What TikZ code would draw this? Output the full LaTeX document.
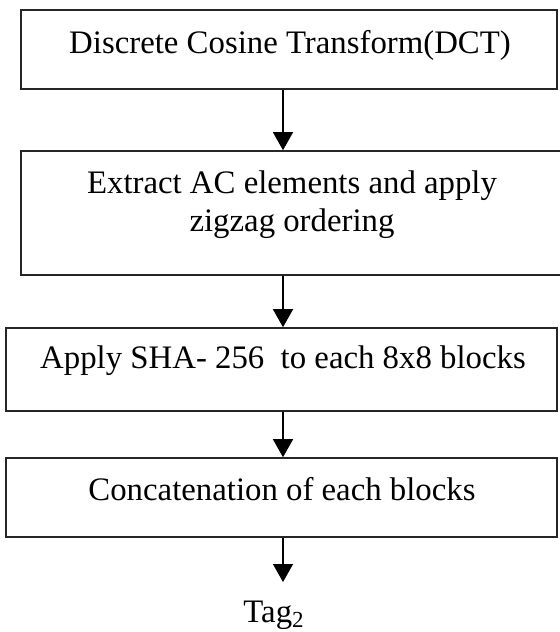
\documentclass[tikz,border=0pt]{standalone}
\usepackage{fontspec}
\setmainfont{Liberation Serif}
\usetikzlibrary{arrows.meta}
\begin{document}
\begin{tikzpicture}[x=0.5pt,y=-0.5pt]
	\tikzset{stepbox/.style={draw=black!85, line width=0.8pt, inner sep=0pt},
		steptext/.style={anchor=base, align=center, inner sep=0pt, font=\fontsize{16.4}{19}\selectfont},
		flowarrow/.style={line width=0.7pt, -{Triangle[width=10pt,length=9pt]}}}
	\useasboundingbox (0,0) rectangle (559,632);
	\coordinate (axis) at (283,0);
	% process boxes
	\node[stepbox, minimum width=268pt, minimum height=39.5pt] (dct) at (289,49.5) {};
	\node[stepbox, minimum width=270.5pt, minimum height=62pt] (ext) at (291.5,213) {};
	\node[stepbox, minimum width=275.5pt, minimum height=41.5pt] (sha) at (281.5,369.5) {};
	\node[stepbox, minimum width=275.5pt, minimum height=39.5pt] (cat) at (281.5,497.5) {};
	% texts (base = last line)
	\node[steptext] (dcttext) at (290,53) {Discrete Cosine Transform(DCT)};
	\node[steptext] (exttext) at (292,231) {Extract AC elements and apply\\ zigzag ordering};
	\node[steptext] (shatext) at (283,368) {Apply SHA- 256\ \ to each 8x8 blocks};
	\node[steptext] (cattext) at (282,500) {Concatenation of each blocks};
	\coordinate (tagtip) at (283,582);
	\node[steptext] (tag) at (274,622) {Tag\textsubscript{2}};
	% arrows
	\foreach \a/\b in {dct/ext, ext/sha, sha/cat}{
		\draw[flowarrow] (\a.south -| axis) -- (\b.north -| axis);
	}
	\draw[flowarrow] (cat.south -| axis) -- (tagtip);
\end{tikzpicture}
\end{document}
